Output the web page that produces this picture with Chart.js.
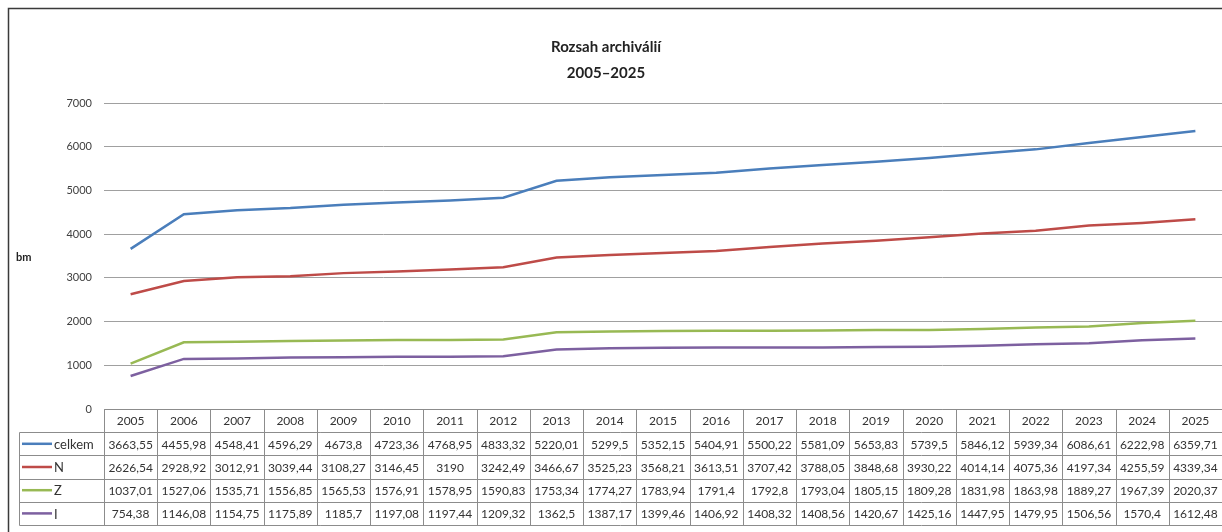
<!DOCTYPE html>
<html>
<head>
<meta charset="utf-8">
<title>Rozsah archiválií</title>
<script src="https://cdn.jsdelivr.net/npm/chart.js@4/dist/chart.umd.min.js"></script>
<style>
  html, body { margin: 0; padding: 0; background: #fff; }
  canvas { display: block; }
</style>
</head>
<body>
<canvas id="chart" width="1222" height="532"></canvas>
<script>
// --- DONNÉES ---
const titleLines = ['Rozsah archiválií', '2005–2025'];
const yAxisTitle = 'bm';
const years = ['2005', '2006', '2007', '2008', '2009', '2010', '2011', '2012', '2013', '2014', '2015',
               '2016', '2017', '2018', '2019', '2020', '2021', '2022', '2023', '2024', '2025'];
const yTicks = [0, 1000, 2000, 3000, 4000, 5000, 6000, 7000];

const celkem = [3663.55, 4455.98, 4548.41, 4596.29, 4673.8, 4723.36, 4768.95, 4833.32, 5220.01, 5299.5, 5352.15,
                5404.91, 5500.22, 5581.09, 5653.83, 5739.5, 5846.12, 5939.34, 6086.61, 6222.98, 6359.71];
const seriesN = [2626.54, 2928.92, 3012.91, 3039.44, 3108.27, 3146.45, 3190, 3242.49, 3466.67, 3525.23, 3568.21,
                 3613.51, 3707.42, 3788.05, 3848.68, 3930.22, 4014.14, 4075.36, 4197.34, 4255.59, 4339.34];
const seriesZ = [1037.01, 1527.06, 1535.71, 1556.85, 1565.53, 1576.91, 1578.95, 1590.83, 1753.34, 1774.27, 1783.94,
                 1791.4, 1792.8, 1793.04, 1805.15, 1809.28, 1831.98, 1863.98, 1889.27, 1967.39, 2020.37];
const seriesI = [754.38, 1146.08, 1154.75, 1175.89, 1185.7, 1197.08, 1197.44, 1209.32, 1362.5, 1387.17, 1399.46,
                 1406.92, 1408.32, 1408.56, 1420.67, 1425.16, 1447.95, 1479.95, 1506.56, 1570.4, 1612.48];

const seriesNames = ['celkem', 'N', 'Z', 'I'];
const seriesValues = [celkem, seriesN, seriesZ, seriesI];
const seriesColors = ['#4a7ebb', '#be4b48', '#98b954', '#7d60a0'];

// nombre au format tchèque (virgule décimale)
const fmt = (v) => String(v).replace('.', ',');

// --- PLUGINS ---

// fond, cadre, titre et libellé de l'axe
const frame = {
  id: 'frame',
  beforeDraw(chart) {
    const ctx = chart.ctx;
    ctx.save();
    ctx.fillStyle = '#fff';
    ctx.fillRect(0, 0, chart.width, chart.height);
    ctx.strokeStyle = '#3a3a3a';
    ctx.lineWidth = 1.5;
    ctx.beginPath();
    ctx.moveTo(8.5, chart.height);
    ctx.lineTo(8.5, 8.5);
    ctx.lineTo(chart.width, 8.5);
    ctx.stroke();

    ctx.fillStyle = '#222';
    ctx.font = 'bold 15px Lato';
    ctx.textAlign = 'center';
    ctx.textBaseline = 'middle';
    titleLines.forEach((t, i) => ctx.fillText(t, 606, 47 + i * 26));

    ctx.font = 'bold 11px Lato';
    ctx.textAlign = 'left';
    ctx.fillText(yAxisTitle, 16, 257);
    ctx.restore();
  }
};

// tableau de données sous le graphique
const dataTable = {
  id: 'dataTable',
  afterDraw(chart) {
    const ctx = chart.ctx;
    const x = chart.scales.x;
    const area = chart.chartArea;
    const w = x.getPixelForValue(1) - x.getPixelForValue(0);
    const top = Math.round(area.bottom);
    const rowH = 23.2;
    const left = x.getPixelForValue(0) - w / 2;
    const right = x.getPixelForValue(years.length - 1) + w / 2;
    const legendLeft = 19;
    const bottom = top + rowH * 5;
    const px = (v) => Math.round(v) + 0.5;

    ctx.save();
    ctx.strokeStyle = '#8c8c8c';
    ctx.lineWidth = 1;
    ctx.beginPath();
    // lignes horizontales
    ctx.moveTo(px(left), px(top));
    ctx.lineTo(right, px(top));
    for (let k = 1; k <= 5; k++) {
      ctx.moveTo(px(legendLeft), px(top + rowH * k));
      ctx.lineTo(right, px(top + rowH * k));
    }
    // lignes verticales
    for (let i = 0; i < years.length; i++) {
      const bx = px(x.getPixelForValue(i) - w / 2);
      ctx.moveTo(bx, px(top));
      ctx.lineTo(bx, px(bottom));
    }
    ctx.moveTo(px(legendLeft), px(top + rowH));
    ctx.lineTo(px(legendLeft), px(bottom));
    ctx.stroke();

    // textes
    ctx.fillStyle = '#333';
    ctx.font = '12px Lato';
    ctx.textBaseline = 'middle';
    ctx.textAlign = 'center';
    years.forEach((y, i) => ctx.fillText(y, x.getPixelForValue(i), top + rowH / 2 + 1));
    seriesValues.forEach((vals, r) => {
      const cy = top + rowH * (r + 1) + rowH / 2 + 1;
      vals.forEach((v, i) => ctx.fillText(fmt(v), x.getPixelForValue(i), cy));
    });

    // légende dans la première colonne
    ctx.font = '13px Lato';
    seriesNames.forEach((name, r) => {
      const cy = top + rowH * (r + 1) + rowH / 2;
      ctx.strokeStyle = seriesColors[r];
      ctx.lineWidth = 2.5;
      ctx.beginPath();
      ctx.moveTo(22, cy);
      ctx.lineTo(52, cy);
      ctx.stroke();
      ctx.textAlign = 'left';
      ctx.fillStyle = '#333';
      ctx.fillText(name, 54, cy + 1);
    });
    ctx.restore();
  }
};

// --- GRAPHIQUE ---
new Chart(document.getElementById('chart'), {
  type: 'line',
  data: {
    labels: years,
    datasets: seriesNames.map((name, i) => ({
      label: name,
      data: seriesValues[i],
      borderColor: seriesColors[i],
      backgroundColor: seriesColors[i],
      borderWidth: 2.5,
      pointRadius: 0,
      tension: 0,
      fill: false
    }))
  },
  options: {
    responsive: false,
    animation: false,
    devicePixelRatio: 1,
    layout: { padding: { top: 103, bottom: 123, left: 0, right: 0 } },
    plugins: {
      legend: { display: false },
      title: { display: false },
      tooltip: { enabled: false }
    },
    scales: {
      x: { display: false, offset: true },
      y: {
        min: yTicks[0],
        max: yTicks[yTicks.length - 1],
        afterBuildTicks: (s) => { s.ticks = yTicks.map(v => ({ value: v })); },
        afterFit: (s) => { s.width = 104; },
        ticks: {
          padding: 12,
          color: '#404040',
          font: { family: 'Lato', size: 11 },
          callback: (v) => String(v)
        },
        grid: { color: '#a0a0a0', lineWidth: 1, drawTicks: false },
        border: { display: false }
      }
    }
  },
  plugins: [frame, dataTable]
});
</script>
</body>
</html>
